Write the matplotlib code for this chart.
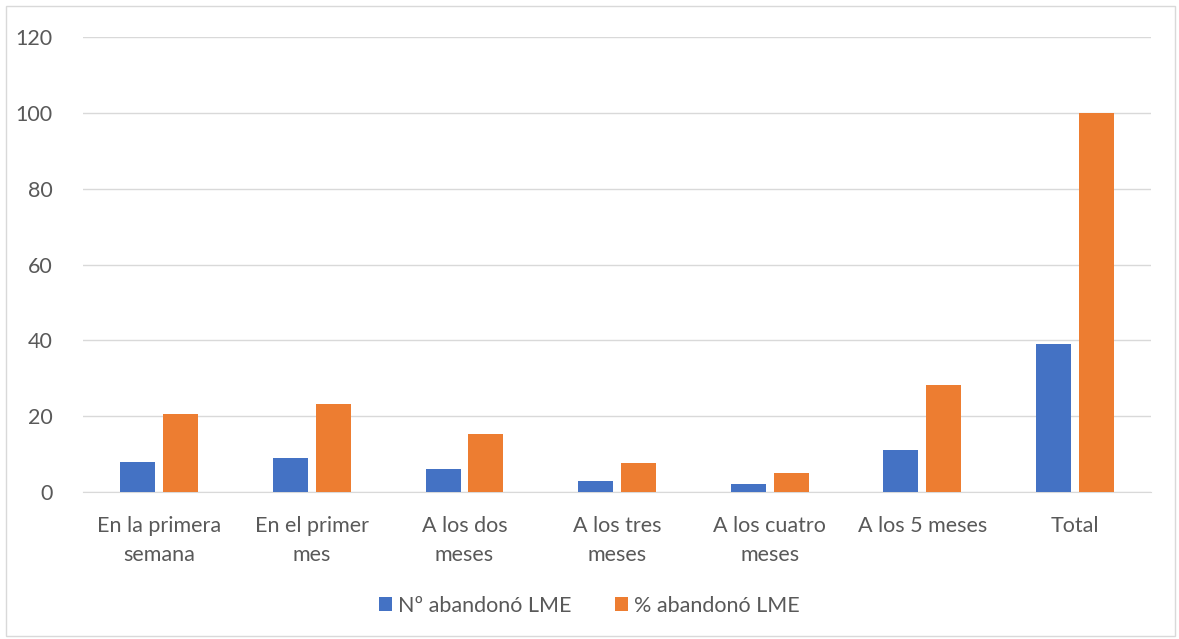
import matplotlib
matplotlib.use("Agg")
import matplotlib.pyplot as plt
import numpy as np
from matplotlib.patches import Rectangle

categories = ["En la primera\nsemana", "En el primer\nmes", "A los dos\nmeses", "A los tres\nmeses",
              "A los cuatro\nmeses", "A los 5 meses", "Total"]
n_abandono = [8, 9, 6, 3, 2, 11, 39]
pct_abandono = [20.5, 23.1, 15.4, 7.7, 5.1, 28.2, 100]
series_labels = ["Nº abandonó LME", "% abandonó LME"]
yticks = [0, 20, 40, 60, 80, 100, 120]

plt.rcParams['font.family'] = ['Lato', 'DejaVu Sans']
text_color = "#595959"
blue = "#4472C4"
orange = "#ED7D31"

fig = plt.figure(figsize=(11.79, 6.39), dpi=100)
fig.patches.append(Rectangle((0.005, 0.004), 0.992, 0.986, transform=fig.transFigure,
                             fill=False, edgecolor="#d9d9d9", linewidth=1.0))
ax = fig.add_axes([0.0704, 0.230, 0.906, 0.712])

x = np.arange(len(categories))
w = 0.229
ax.bar(x - 0.14, n_abandono, w, color=blue, label=series_labels[0], zorder=3)
ax.bar(x + 0.14, pct_abandono, w, color=orange, label=series_labels[1], zorder=3)

ax.set_xlim(-0.5, len(categories) - 0.5)
ax.set_ylim(0, 120)
ax.set_yticks(yticks)
ax.yaxis.grid(True, color="#d9d9d9", linewidth=1.0, zorder=0)
ax.set_axisbelow(True)
for s in ["top", "right", "left"]:
    ax.spines[s].set_visible(False)
ax.spines["bottom"].set_color("#d9d9d9")
ax.tick_params(axis="both", length=0, labelsize=15.5, colors=text_color)
ax.tick_params(axis="x", pad=17)
ax.tick_params(axis="y", pad=22)
ax.set_xticks(x)
ax.set_xticklabels(categories, linespacing=1.6)

fig.legend(loc="center", bbox_to_anchor=(0.5, 0.052), ncol=2, frameon=False,
           fontsize=15.5, labelcolor=text_color, handlelength=0.6, handleheight=0.6,
           handletextpad=0.3, columnspacing=2.0)

fig.savefig("out.png", dpi=100)
